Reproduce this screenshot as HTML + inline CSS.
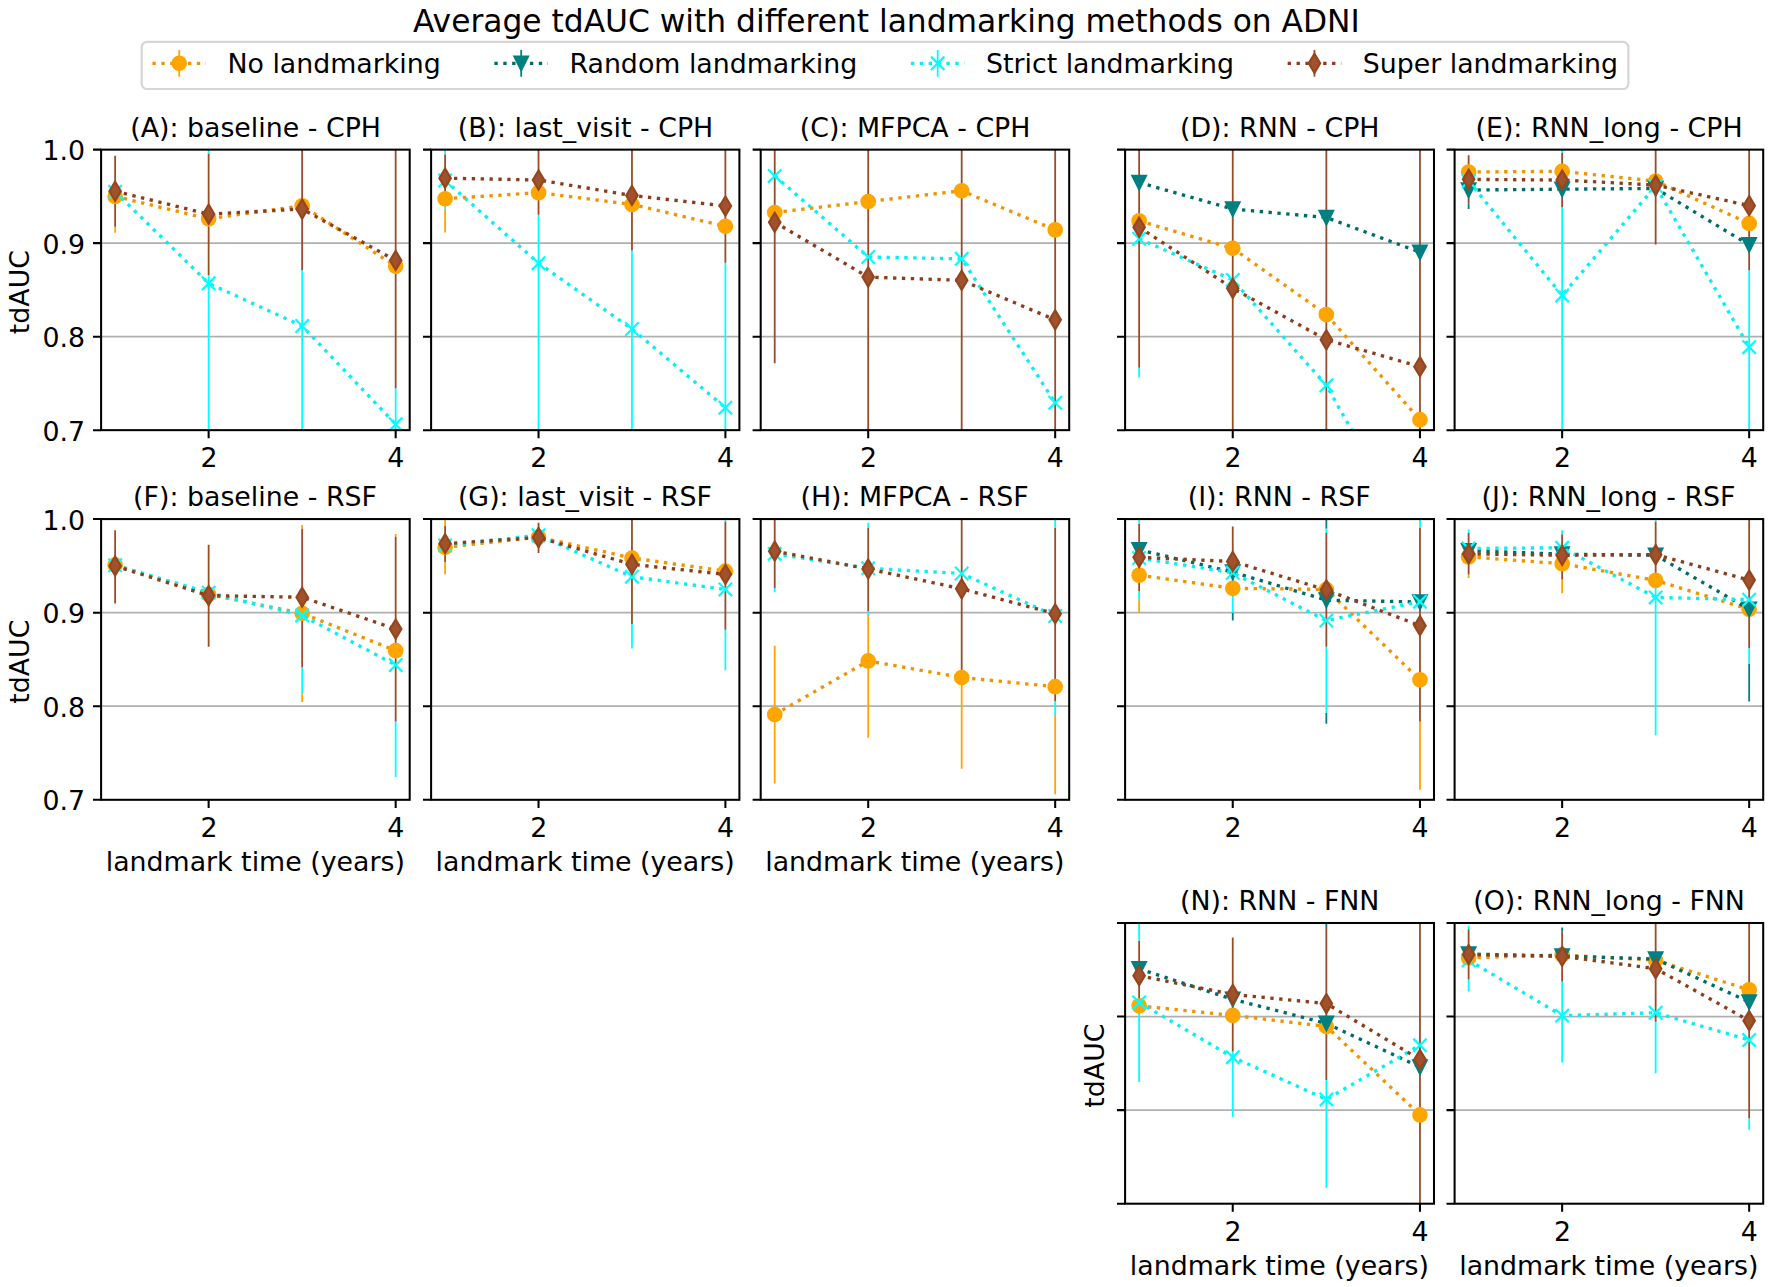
<!DOCTYPE html>
<html lang="en"><head><meta charset="utf-8"><title>Average tdAUC with different landmarking methods on ADNI</title>
<style>
html,body{margin:0;padding:0;background:#fff}
svg{display:block}
svg text{font-family:"DejaVu Sans","Liberation Sans",sans-serif;font-size:26.8px;fill:#000}
</style></head><body>
<svg width="1772" height="1287" viewBox="0 0 1772 1287">
<rect width="1772" height="1287" fill="#fff"/>
<defs><clipPath id="c0"><rect x="101.1" y="149.64" width="308.6" height="280.51"/></clipPath><clipPath id="c1"><rect x="431.1" y="149.64" width="308.3" height="280.51"/></clipPath><clipPath id="c2"><rect x="760.7" y="149.64" width="308.5" height="280.51"/></clipPath><clipPath id="c3"><rect x="1125.1" y="149.64" width="308.9" height="280.51"/></clipPath><clipPath id="c4"><rect x="1454.6" y="149.64" width="308.6" height="280.51"/></clipPath><clipPath id="c5"><rect x="101.1" y="519.07" width="308.6" height="280.73"/></clipPath><clipPath id="c6"><rect x="431.1" y="519.07" width="308.3" height="280.73"/></clipPath><clipPath id="c7"><rect x="760.7" y="519.07" width="308.5" height="280.73"/></clipPath><clipPath id="c8"><rect x="1125.1" y="519.07" width="308.9" height="280.73"/></clipPath><clipPath id="c9"><rect x="1454.6" y="519.07" width="308.6" height="280.73"/></clipPath><clipPath id="c10"><rect x="1125.1" y="923" width="308.9" height="280.7"/></clipPath><clipPath id="c11"><rect x="1454.6" y="923" width="308.6" height="280.7"/></clipPath></defs>
<text x="886.42" y="31.7" text-anchor="middle" style="font-size:31.3px">Average tdAUC with different landmarking methods on ADNI</text>
<rect x="141.7" y="41.9" width="1486.7" height="47.1" rx="5.4" ry="5.4" fill="#fff" fill-opacity="0.8" stroke="#ccc" stroke-opacity="0.8" stroke-width="2.23"/>
<line x1="179.22" x2="179.22"  y1="49.9" y2="76.7" stroke="#ffa500" stroke-width="1.8"/>
<line x1="152.42" x2="206.02" y1="63.3" y2="63.3" stroke="#f29400" stroke-width="3.35" stroke-dasharray="3.35 5.53"/>
<circle cx="179.22" cy="63.3" r="7.82" fill="#ffa500"/>
<text x="227.46" y="72.95">No landmarking</text>
<line x1="521.2" x2="521.2"  y1="49.9" y2="76.7" stroke="#008080" stroke-width="1.8"/>
<line x1="494.4" x2="548" y1="63.3" y2="63.3" stroke="#006c68" stroke-width="3.35" stroke-dasharray="3.35 5.53"/>
<path d="M521.2 70L514.5 56.6L527.9 56.6Z" fill="#008080" stroke="#008080" stroke-width="2.23" stroke-linejoin="miter"/>
<text x="569.44" y="72.95">Random landmarking</text>
<line x1="937.69" x2="937.69"  y1="49.9" y2="76.7" stroke="#00ffff" stroke-width="1.8"/>
<line x1="910.89" x2="964.49" y1="63.3" y2="63.3" stroke="#00f2f2" stroke-width="3.35" stroke-dasharray="3.35 5.53"/>
<path d="M930.99 56.6L944.39 70M930.99 70L944.39 56.6" fill="none" stroke="#00ffff" stroke-width="2.23"/>
<text x="985.93" y="72.95">Strict landmarking</text>
<line x1="1314.46" x2="1314.46"  y1="49.9" y2="76.7" stroke="#9a4c28" stroke-width="1.8"/>
<line x1="1287.66" x2="1341.26" y1="63.3" y2="63.3" stroke="#8c3e1c" stroke-width="3.35" stroke-dasharray="3.35 5.53"/>
<path d="M1314.46 53.83L1320.14 63.3L1314.46 72.77L1308.77 63.3Z" fill="#a0522d" stroke="#96461f" stroke-width="2.23" stroke-linejoin="miter"/>
<text x="1362.7" y="72.95">Super landmarking</text>
<g clip-path="url(#c0)">
<line x1="101.1" x2="409.7" y1="336.65" y2="336.65" stroke="#b0b0b0" stroke-width="1.7"/>
<line x1="101.1" x2="409.7" y1="243.14" y2="243.14" stroke="#b0b0b0" stroke-width="1.7"/>
<line x1="115.13" x2="115.13" y1="226.78" y2="232.86" stroke="#ffa500" stroke-width="1.8"/>
<line x1="115.13" x2="115.13" y1="155.72" y2="226.78" stroke="#9a4c28" stroke-width="1.8"/>
<line x1="208.64" x2="208.64" y1="274.93" y2="439.5" stroke="#00ffff" stroke-width="1.8"/>
<line x1="208.64" x2="208.64" y1="153.38" y2="274.93" stroke="#9a4c28" stroke-width="1.8"/>
<line x1="208.64" x2="208.64" y1="140.29" y2="153.38" stroke="#00ffff" stroke-width="1.8"/>
<line x1="302.16" x2="302.16" y1="270.26" y2="439.5" stroke="#00ffff" stroke-width="1.8"/>
<line x1="302.16" x2="302.16" y1="140.29" y2="270.26" stroke="#9a4c28" stroke-width="1.8"/>
<line x1="395.67" x2="395.67" y1="388.35" y2="439.5" stroke="#00ffff" stroke-width="1.8"/>
<line x1="395.67" x2="395.67" y1="140.29" y2="388.35" stroke="#9a4c28" stroke-width="1.8"/>
<polyline points="115.13,196.39 208.64,218.83 302.16,205.74 395.67,266.15" fill="none" stroke="#f29400" stroke-width="3.35" stroke-dasharray="3.35 5.53"/>
<circle cx="115.13" cy="196.39" r="7.82" fill="#ffa500"/>
<circle cx="208.64" cy="218.83" r="7.82" fill="#ffa500"/>
<circle cx="302.16" cy="205.74" r="7.82" fill="#ffa500"/>
<circle cx="395.67" cy="266.15" r="7.82" fill="#ffa500"/>
<polyline points="115.13,191.72 208.64,283.35 302.16,325.99 395.67,424.26" fill="none" stroke="#00f2f2" stroke-width="3.35" stroke-dasharray="3.35 5.53"/>
<path d="M108.43 185.02L121.83 198.42M108.43 198.42L121.83 185.02" fill="none" stroke="#00ffff" stroke-width="2.23"/>
<path d="M201.94 276.65L215.34 290.05M201.94 290.05L215.34 276.65" fill="none" stroke="#00ffff" stroke-width="2.23"/>
<path d="M295.46 319.29L308.86 332.69M295.46 332.69L308.86 319.29" fill="none" stroke="#00ffff" stroke-width="2.23"/>
<path d="M388.97 417.56L402.37 430.96M388.97 430.96L402.37 417.56" fill="none" stroke="#00ffff" stroke-width="2.23"/>
<polyline points="115.13,191.25 208.64,214.16 302.16,209.01 395.67,260.44" fill="none" stroke="#8c3e1c" stroke-width="3.35" stroke-dasharray="3.35 5.53"/>
<path d="M115.13 181.78L120.81 191.25L115.13 200.72L109.44 191.25Z" fill="#a0522d" stroke="#96461f" stroke-width="2.23" stroke-linejoin="miter"/>
<path d="M208.64 204.68L214.33 214.16L208.64 223.63L202.96 214.16Z" fill="#a0522d" stroke="#96461f" stroke-width="2.23" stroke-linejoin="miter"/>
<path d="M302.16 199.54L307.84 209.01L302.16 218.49L296.47 209.01Z" fill="#a0522d" stroke="#96461f" stroke-width="2.23" stroke-linejoin="miter"/>
<path d="M395.67 250.97L401.36 260.44L395.67 269.92L389.99 260.44Z" fill="#a0522d" stroke="#96461f" stroke-width="2.23" stroke-linejoin="miter"/>
</g>
<path d="M208.64 430.15v8.1M395.67 430.15v8.1M101.1 430.15h-8.1M101.1 336.65h-8.1M101.1 243.14h-8.1M101.1 149.64h-8.1" stroke="#000" stroke-width="2.05" fill="none"/>
<rect x="101.1" y="149.64" width="308.6" height="280.51" fill="none" stroke="#000" stroke-width="2.05" stroke-linejoin="miter"/>
<text x="208.99" y="467.3" text-anchor="middle">2</text>
<text x="395.77" y="467.3" text-anchor="middle">4</text>
<text x="85.1" y="440.75" text-anchor="end">0.7</text>
<text x="85.1" y="347.25" text-anchor="end">0.8</text>
<text x="85.1" y="253.74" text-anchor="end">0.9</text>
<text x="85.1" y="160.24" text-anchor="end">1.0</text>
<text transform="translate(29.2 292.09) rotate(-90)" text-anchor="middle">tdAUC</text>
<text x="255.57" y="136.79" text-anchor="middle">(A): baseline - CPH</text>
<g clip-path="url(#c1)">
<line x1="431.1" x2="739.4" y1="336.65" y2="336.65" stroke="#b0b0b0" stroke-width="1.7"/>
<line x1="431.1" x2="739.4" y1="243.14" y2="243.14" stroke="#b0b0b0" stroke-width="1.7"/>
<line x1="445.11" x2="445.11" y1="208.73" y2="232.39" stroke="#ffa500" stroke-width="1.8"/>
<line x1="445.11" x2="445.11" y1="202" y2="208.73" stroke="#00ffff" stroke-width="1.8"/>
<line x1="445.11" x2="445.11" y1="154.32" y2="202" stroke="#9a4c28" stroke-width="1.8"/>
<line x1="445.11" x2="445.11" y1="140.29" y2="154.32" stroke="#00ffff" stroke-width="1.8"/>
<line x1="538.54" x2="538.54" y1="214.72" y2="439.5" stroke="#00ffff" stroke-width="1.8"/>
<line x1="538.54" x2="538.54" y1="140.29" y2="214.72" stroke="#9a4c28" stroke-width="1.8"/>
<line x1="631.96" x2="631.96" y1="250.62" y2="439.5" stroke="#00ffff" stroke-width="1.8"/>
<line x1="631.96" x2="631.96" y1="140.29" y2="250.62" stroke="#9a4c28" stroke-width="1.8"/>
<line x1="725.39" x2="725.39" y1="262.78" y2="439.5" stroke="#00ffff" stroke-width="1.8"/>
<line x1="725.39" x2="725.39" y1="140.29" y2="262.78" stroke="#9a4c28" stroke-width="1.8"/>
<polyline points="445.11,198.73 538.54,192.65 631.96,204.43 725.39,226.31" fill="none" stroke="#f29400" stroke-width="3.35" stroke-dasharray="3.35 5.53"/>
<circle cx="445.11" cy="198.73" r="7.82" fill="#ffa500"/>
<circle cx="538.54" cy="192.65" r="7.82" fill="#ffa500"/>
<circle cx="631.96" cy="204.43" r="7.82" fill="#ffa500"/>
<circle cx="725.39" cy="226.31" r="7.82" fill="#ffa500"/>
<polyline points="445.11,180.5 538.54,263.15 631.96,328.98 725.39,407.71" fill="none" stroke="#00f2f2" stroke-width="3.35" stroke-dasharray="3.35 5.53"/>
<path d="M438.41 173.8L451.81 187.2M438.41 187.2L451.81 173.8" fill="none" stroke="#00ffff" stroke-width="2.23"/>
<path d="M531.84 256.45L545.24 269.85M531.84 269.85L545.24 256.45" fill="none" stroke="#00ffff" stroke-width="2.23"/>
<path d="M625.26 322.28L638.66 335.68M625.26 335.68L638.66 322.28" fill="none" stroke="#00ffff" stroke-width="2.23"/>
<path d="M718.69 401.01L732.09 414.41M718.69 414.41L732.09 401.01" fill="none" stroke="#00ffff" stroke-width="2.23"/>
<polyline points="445.11,178.16 538.54,180.03 631.96,195.46 725.39,206.02" fill="none" stroke="#8c3e1c" stroke-width="3.35" stroke-dasharray="3.35 5.53"/>
<path d="M445.11 168.68L450.8 178.16L445.11 187.63L439.43 178.16Z" fill="#a0522d" stroke="#96461f" stroke-width="2.23" stroke-linejoin="miter"/>
<path d="M538.54 170.55L544.22 180.03L538.54 189.5L532.85 180.03Z" fill="#a0522d" stroke="#96461f" stroke-width="2.23" stroke-linejoin="miter"/>
<path d="M631.96 185.98L637.65 195.46L631.96 204.93L626.28 195.46Z" fill="#a0522d" stroke="#96461f" stroke-width="2.23" stroke-linejoin="miter"/>
<path d="M725.39 196.55L731.07 206.02L725.39 215.5L719.7 206.02Z" fill="#a0522d" stroke="#96461f" stroke-width="2.23" stroke-linejoin="miter"/>
</g>
<path d="M538.54 430.15v8.1M725.39 430.15v8.1M431.1 430.15h-8.1M431.1 336.65h-8.1M431.1 243.14h-8.1M431.1 149.64h-8.1" stroke="#000" stroke-width="2.05" fill="none"/>
<rect x="431.1" y="149.64" width="308.3" height="280.51" fill="none" stroke="#000" stroke-width="2.05" stroke-linejoin="miter"/>
<text x="538.89" y="467.3" text-anchor="middle">2</text>
<text x="725.48" y="467.3" text-anchor="middle">4</text>
<text x="585.43" y="136.79" text-anchor="middle">(B): last_visit - CPH</text>
<g clip-path="url(#c2)">
<line x1="760.7" x2="1069.2" y1="336.65" y2="336.65" stroke="#b0b0b0" stroke-width="1.7"/>
<line x1="760.7" x2="1069.2" y1="243.14" y2="243.14" stroke="#b0b0b0" stroke-width="1.7"/>
<line x1="774.72" x2="774.72" y1="140.29" y2="363.2" stroke="#9a4c28" stroke-width="1.8"/>
<line x1="868.21" x2="868.21" y1="140.29" y2="439.5" stroke="#9a4c28" stroke-width="1.8"/>
<line x1="961.69" x2="961.69" y1="140.29" y2="439.5" stroke="#9a4c28" stroke-width="1.8"/>
<line x1="1055.18" x2="1055.18" y1="140.29" y2="439.5" stroke="#9a4c28" stroke-width="1.8"/>
<polyline points="774.72,212.47 868.21,201.53 961.69,190.78 1055.18,229.87" fill="none" stroke="#f29400" stroke-width="3.35" stroke-dasharray="3.35 5.53"/>
<circle cx="774.72" cy="212.47" r="7.82" fill="#ffa500"/>
<circle cx="868.21" cy="201.53" r="7.82" fill="#ffa500"/>
<circle cx="961.69" cy="190.78" r="7.82" fill="#ffa500"/>
<circle cx="1055.18" cy="229.87" r="7.82" fill="#ffa500"/>
<polyline points="774.72,175.91 868.21,256.98 961.69,258.85 1055.18,402.75" fill="none" stroke="#00f2f2" stroke-width="3.35" stroke-dasharray="3.35 5.53"/>
<path d="M768.02 169.22L781.42 182.61M768.02 182.61L781.42 169.22" fill="none" stroke="#00ffff" stroke-width="2.23"/>
<path d="M861.51 250.28L874.91 263.68M861.51 263.68L874.91 250.28" fill="none" stroke="#00ffff" stroke-width="2.23"/>
<path d="M954.99 252.15L968.39 265.55M954.99 265.55L968.39 252.15" fill="none" stroke="#00ffff" stroke-width="2.23"/>
<path d="M1048.48 396.05L1061.88 409.45M1048.48 409.45L1061.88 396.05" fill="none" stroke="#00ffff" stroke-width="2.23"/>
<polyline points="774.72,222.29 868.21,277.09 961.69,280.36 1055.18,319.82" fill="none" stroke="#8c3e1c" stroke-width="3.35" stroke-dasharray="3.35 5.53"/>
<path d="M774.72 212.82L780.41 222.29L774.72 231.77L769.04 222.29Z" fill="#a0522d" stroke="#96461f" stroke-width="2.23" stroke-linejoin="miter"/>
<path d="M868.21 267.61L873.89 277.09L868.21 286.56L862.52 277.09Z" fill="#a0522d" stroke="#96461f" stroke-width="2.23" stroke-linejoin="miter"/>
<path d="M961.69 270.88L967.38 280.36L961.69 289.83L956.01 280.36Z" fill="#a0522d" stroke="#96461f" stroke-width="2.23" stroke-linejoin="miter"/>
<path d="M1055.18 310.34L1060.86 319.82L1055.18 329.29L1049.49 319.82Z" fill="#a0522d" stroke="#96461f" stroke-width="2.23" stroke-linejoin="miter"/>
</g>
<path d="M868.21 430.15v8.1M1055.18 430.15v8.1M760.7 430.15h-8.1M760.7 336.65h-8.1M760.7 243.14h-8.1M760.7 149.64h-8.1" stroke="#000" stroke-width="2.05" fill="none"/>
<rect x="760.7" y="149.64" width="308.5" height="280.51" fill="none" stroke="#000" stroke-width="2.05" stroke-linejoin="miter"/>
<text x="868.56" y="467.3" text-anchor="middle">2</text>
<text x="1055.27" y="467.3" text-anchor="middle">4</text>
<text x="915.12" y="136.79" text-anchor="middle">(C): MFPCA - CPH</text>
<g clip-path="url(#c3)">
<line x1="1125.1" x2="1434" y1="336.65" y2="336.65" stroke="#b0b0b0" stroke-width="1.7"/>
<line x1="1125.1" x2="1434" y1="243.14" y2="243.14" stroke="#b0b0b0" stroke-width="1.7"/>
<line x1="1139.14" x2="1139.14" y1="367.78" y2="377.6" stroke="#00ffff" stroke-width="1.8"/>
<line x1="1139.14" x2="1139.14" y1="140.29" y2="367.78" stroke="#9a4c28" stroke-width="1.8"/>
<line x1="1232.75" x2="1232.75" y1="140.29" y2="439.5" stroke="#9a4c28" stroke-width="1.8"/>
<line x1="1326.35" x2="1326.35" y1="140.29" y2="439.5" stroke="#9a4c28" stroke-width="1.8"/>
<line x1="1419.96" x2="1419.96" y1="140.29" y2="439.5" stroke="#9a4c28" stroke-width="1.8"/>
<polyline points="1139.14,220.89 1232.75,248.29 1326.35,314.58 1419.96,419.68" fill="none" stroke="#f29400" stroke-width="3.35" stroke-dasharray="3.35 5.53"/>
<circle cx="1139.14" cy="220.89" r="7.82" fill="#ffa500"/>
<circle cx="1232.75" cy="248.29" r="7.82" fill="#ffa500"/>
<circle cx="1326.35" cy="314.58" r="7.82" fill="#ffa500"/>
<circle cx="1419.96" cy="419.68" r="7.82" fill="#ffa500"/>
<polyline points="1139.14,182.55 1232.75,209.01 1326.35,217.52 1419.96,252.21" fill="none" stroke="#006c68" stroke-width="3.35" stroke-dasharray="3.35 5.53"/>
<path d="M1139.14 189.25L1132.44 175.85L1145.84 175.85Z" fill="#008080" stroke="#008080" stroke-width="2.23" stroke-linejoin="miter"/>
<path d="M1232.75 215.71L1226.05 202.32L1239.45 202.32Z" fill="#008080" stroke="#008080" stroke-width="2.23" stroke-linejoin="miter"/>
<path d="M1326.35 224.22L1319.65 210.82L1333.05 210.82Z" fill="#008080" stroke="#008080" stroke-width="2.23" stroke-linejoin="miter"/>
<path d="M1419.96 258.91L1413.26 245.51L1426.66 245.51Z" fill="#008080" stroke="#008080" stroke-width="2.23" stroke-linejoin="miter"/>
<polyline points="1139.14,238.75 1232.75,279.89 1326.35,385.36 1419.96,550.77" fill="none" stroke="#00f2f2" stroke-width="3.35" stroke-dasharray="3.35 5.53"/>
<path d="M1132.44 232.05L1145.84 245.45M1132.44 245.45L1145.84 232.05" fill="none" stroke="#00ffff" stroke-width="2.23"/>
<path d="M1226.05 273.19L1239.45 286.59M1226.05 286.59L1239.45 273.19" fill="none" stroke="#00ffff" stroke-width="2.23"/>
<path d="M1319.65 378.66L1333.05 392.06M1319.65 392.06L1333.05 378.66" fill="none" stroke="#00ffff" stroke-width="2.23"/>
<path d="M1413.26 544.07L1426.66 557.47M1413.26 557.47L1426.66 544.07" fill="none" stroke="#00ffff" stroke-width="2.23"/>
<polyline points="1139.14,227.25 1232.75,288.31 1326.35,339.73 1419.96,366.66" fill="none" stroke="#8c3e1c" stroke-width="3.35" stroke-dasharray="3.35 5.53"/>
<path d="M1139.14 217.77L1144.83 227.25L1139.14 236.72L1133.46 227.25Z" fill="#a0522d" stroke="#96461f" stroke-width="2.23" stroke-linejoin="miter"/>
<path d="M1232.75 278.83L1238.43 288.31L1232.75 297.78L1227.06 288.31Z" fill="#a0522d" stroke="#96461f" stroke-width="2.23" stroke-linejoin="miter"/>
<path d="M1326.35 330.26L1332.04 339.73L1326.35 349.21L1320.67 339.73Z" fill="#a0522d" stroke="#96461f" stroke-width="2.23" stroke-linejoin="miter"/>
<path d="M1419.96 357.19L1425.64 366.66L1419.96 376.13L1414.27 366.66Z" fill="#a0522d" stroke="#96461f" stroke-width="2.23" stroke-linejoin="miter"/>
</g>
<path d="M1232.75 430.15v8.1M1419.96 430.15v8.1M1125.1 430.15h-8.1M1125.1 336.65h-8.1M1125.1 243.14h-8.1M1125.1 149.64h-8.1" stroke="#000" stroke-width="2.05" fill="none"/>
<rect x="1125.1" y="149.64" width="308.9" height="280.51" fill="none" stroke="#000" stroke-width="2.05" stroke-linejoin="miter"/>
<text x="1233.1" y="467.3" text-anchor="middle">2</text>
<text x="1420.06" y="467.3" text-anchor="middle">4</text>
<text x="1279.72" y="136.79" text-anchor="middle">(D): RNN - CPH</text>
<g clip-path="url(#c4)">
<line x1="1454.6" x2="1763.2" y1="336.65" y2="336.65" stroke="#b0b0b0" stroke-width="1.7"/>
<line x1="1454.6" x2="1763.2" y1="243.14" y2="243.14" stroke="#b0b0b0" stroke-width="1.7"/>
<line x1="1468.63" x2="1468.63" y1="203.4" y2="209.01" stroke="#008080" stroke-width="1.8"/>
<line x1="1468.63" x2="1468.63" y1="155.34" y2="203.4" stroke="#9a4c28" stroke-width="1.8"/>
<line x1="1562.14" x2="1562.14" y1="207.24" y2="439.5" stroke="#00ffff" stroke-width="1.8"/>
<line x1="1562.14" x2="1562.14" y1="153.1" y2="207.24" stroke="#9a4c28" stroke-width="1.8"/>
<line x1="1562.14" x2="1562.14" y1="140.29" y2="153.1" stroke="#00ffff" stroke-width="1.8"/>
<line x1="1655.66" x2="1655.66" y1="140.29" y2="244.45" stroke="#9a4c28" stroke-width="1.8"/>
<line x1="1749.17" x2="1749.17" y1="270.26" y2="439.5" stroke="#00ffff" stroke-width="1.8"/>
<line x1="1749.17" x2="1749.17" y1="140.29" y2="270.26" stroke="#9a4c28" stroke-width="1.8"/>
<polyline points="1468.63,171.99 1562.14,171.33 1655.66,181.15 1749.17,223.41" fill="none" stroke="#f29400" stroke-width="3.35" stroke-dasharray="3.35 5.53"/>
<circle cx="1468.63" cy="171.99" r="7.82" fill="#ffa500"/>
<circle cx="1562.14" cy="171.33" r="7.82" fill="#ffa500"/>
<circle cx="1655.66" cy="181.15" r="7.82" fill="#ffa500"/>
<circle cx="1749.17" cy="223.41" r="7.82" fill="#ffa500"/>
<polyline points="1468.63,190.03 1562.14,189.19 1655.66,188.44 1749.17,244.92" fill="none" stroke="#006c68" stroke-width="3.35" stroke-dasharray="3.35 5.53"/>
<path d="M1468.63 196.73L1461.93 183.33L1475.33 183.33Z" fill="#008080" stroke="#008080" stroke-width="2.23" stroke-linejoin="miter"/>
<path d="M1562.14 195.89L1555.44 182.49L1568.84 182.49Z" fill="#008080" stroke="#008080" stroke-width="2.23" stroke-linejoin="miter"/>
<path d="M1655.66 195.14L1648.96 181.74L1662.36 181.74Z" fill="#008080" stroke="#008080" stroke-width="2.23" stroke-linejoin="miter"/>
<path d="M1749.17 251.62L1742.47 238.22L1755.87 238.22Z" fill="#008080" stroke="#008080" stroke-width="2.23" stroke-linejoin="miter"/>
<polyline points="1468.63,181.15 1562.14,295.41 1655.66,186.11 1749.17,347.21" fill="none" stroke="#00f2f2" stroke-width="3.35" stroke-dasharray="3.35 5.53"/>
<path d="M1461.93 174.45L1475.33 187.85M1461.93 187.85L1475.33 174.45" fill="none" stroke="#00ffff" stroke-width="2.23"/>
<path d="M1555.44 288.71L1568.84 302.11M1555.44 302.11L1568.84 288.71" fill="none" stroke="#00ffff" stroke-width="2.23"/>
<path d="M1648.96 179.41L1662.36 192.81M1648.96 192.81L1662.36 179.41" fill="none" stroke="#00ffff" stroke-width="2.23"/>
<path d="M1742.47 340.51L1755.87 353.91M1742.47 353.91L1755.87 340.51" fill="none" stroke="#00ffff" stroke-width="2.23"/>
<polyline points="1468.63,179.37 1562.14,180.03 1655.66,185.08 1749.17,205.65" fill="none" stroke="#8c3e1c" stroke-width="3.35" stroke-dasharray="3.35 5.53"/>
<path d="M1468.63 169.9L1474.31 179.37L1468.63 188.85L1462.94 179.37Z" fill="#a0522d" stroke="#96461f" stroke-width="2.23" stroke-linejoin="miter"/>
<path d="M1562.14 170.55L1567.83 180.03L1562.14 189.5L1556.46 180.03Z" fill="#a0522d" stroke="#96461f" stroke-width="2.23" stroke-linejoin="miter"/>
<path d="M1655.66 175.6L1661.34 185.08L1655.66 194.55L1649.97 185.08Z" fill="#a0522d" stroke="#96461f" stroke-width="2.23" stroke-linejoin="miter"/>
<path d="M1749.17 196.17L1754.86 205.65L1749.17 215.12L1743.49 205.65Z" fill="#a0522d" stroke="#96461f" stroke-width="2.23" stroke-linejoin="miter"/>
</g>
<path d="M1562.14 430.15v8.1M1749.17 430.15v8.1M1454.6 430.15h-8.1M1454.6 336.65h-8.1M1454.6 243.14h-8.1M1454.6 149.64h-8.1" stroke="#000" stroke-width="2.05" fill="none"/>
<rect x="1454.6" y="149.64" width="308.6" height="280.51" fill="none" stroke="#000" stroke-width="2.05" stroke-linejoin="miter"/>
<text x="1562.49" y="467.3" text-anchor="middle">2</text>
<text x="1749.27" y="467.3" text-anchor="middle">4</text>
<text x="1609.07" y="136.79" text-anchor="middle">(E): RNN_long - CPH</text>
<g clip-path="url(#c5)">
<line x1="101.1" x2="409.7" y1="706.22" y2="706.22" stroke="#b0b0b0" stroke-width="1.7"/>
<line x1="101.1" x2="409.7" y1="612.65" y2="612.65" stroke="#b0b0b0" stroke-width="1.7"/>
<line x1="115.13" x2="115.13" y1="530.3" y2="603.57" stroke="#9a4c28" stroke-width="1.8"/>
<line x1="208.64" x2="208.64" y1="544.8" y2="646.8" stroke="#9a4c28" stroke-width="1.8"/>
<line x1="302.16" x2="302.16" y1="693.5" y2="701.92" stroke="#ffa500" stroke-width="1.8"/>
<line x1="302.16" x2="302.16" y1="667.3" y2="693.5" stroke="#00ffff" stroke-width="1.8"/>
<line x1="302.16" x2="302.16" y1="528.43" y2="667.3" stroke="#9a4c28" stroke-width="1.8"/>
<line x1="302.16" x2="302.16" y1="524.97" y2="528.43" stroke="#ffa500" stroke-width="1.8"/>
<line x1="395.67" x2="395.67" y1="721.48" y2="777.06" stroke="#00ffff" stroke-width="1.8"/>
<line x1="395.67" x2="395.67" y1="536.38" y2="721.48" stroke="#9a4c28" stroke-width="1.8"/>
<line x1="395.67" x2="395.67" y1="534.04" y2="536.38" stroke="#ffa500" stroke-width="1.8"/>
<polyline points="115.13,564.92 208.64,594.4 302.16,613.3 395.67,650.64" fill="none" stroke="#f29400" stroke-width="3.35" stroke-dasharray="3.35 5.53"/>
<circle cx="115.13" cy="564.92" r="7.82" fill="#ffa500"/>
<circle cx="208.64" cy="594.4" r="7.82" fill="#ffa500"/>
<circle cx="302.16" cy="613.3" r="7.82" fill="#ffa500"/>
<circle cx="395.67" cy="650.64" r="7.82" fill="#ffa500"/>
<polyline points="115.13,565.3 208.64,592.62 302.16,615.45 395.67,665.05" fill="none" stroke="#00f2f2" stroke-width="3.35" stroke-dasharray="3.35 5.53"/>
<path d="M108.43 558.6L121.83 572M108.43 572L121.83 558.6" fill="none" stroke="#00ffff" stroke-width="2.23"/>
<path d="M201.94 585.92L215.34 599.32M201.94 599.32L215.34 585.92" fill="none" stroke="#00ffff" stroke-width="2.23"/>
<path d="M295.46 608.75L308.86 622.15M295.46 622.15L308.86 608.75" fill="none" stroke="#00ffff" stroke-width="2.23"/>
<path d="M388.97 658.35L402.37 671.75M388.97 671.75L402.37 658.35" fill="none" stroke="#00ffff" stroke-width="2.23"/>
<polyline points="115.13,565.95 208.64,595.62 302.16,597.21 395.67,629.02" fill="none" stroke="#8c3e1c" stroke-width="3.35" stroke-dasharray="3.35 5.53"/>
<path d="M115.13 556.48L120.81 565.95L115.13 575.43L109.44 565.95Z" fill="#a0522d" stroke="#96461f" stroke-width="2.23" stroke-linejoin="miter"/>
<path d="M208.64 586.14L214.33 595.62L208.64 605.09L202.96 595.62Z" fill="#a0522d" stroke="#96461f" stroke-width="2.23" stroke-linejoin="miter"/>
<path d="M302.16 587.73L307.84 597.21L302.16 606.68L296.47 597.21Z" fill="#a0522d" stroke="#96461f" stroke-width="2.23" stroke-linejoin="miter"/>
<path d="M395.67 619.55L401.36 629.02L395.67 638.5L389.99 629.02Z" fill="#a0522d" stroke="#96461f" stroke-width="2.23" stroke-linejoin="miter"/>
</g>
<path d="M208.64 799.8v8.1M395.67 799.8v8.1M101.1 799.8h-8.1M101.1 706.22h-8.1M101.1 612.65h-8.1M101.1 519.07h-8.1" stroke="#000" stroke-width="2.05" fill="none"/>
<rect x="101.1" y="519.07" width="308.6" height="280.73" fill="none" stroke="#000" stroke-width="2.05" stroke-linejoin="miter"/>
<text x="208.99" y="836.95" text-anchor="middle">2</text>
<text x="395.77" y="836.95" text-anchor="middle">4</text>
<text x="85.1" y="810.4" text-anchor="end">0.7</text>
<text x="85.1" y="716.82" text-anchor="end">0.8</text>
<text x="85.1" y="623.25" text-anchor="end">0.9</text>
<text x="85.1" y="529.67" text-anchor="end">1.0</text>
<text transform="translate(29.2 661.63) rotate(-90)" text-anchor="middle">tdAUC</text>
<text x="255.27" y="870.9" text-anchor="middle">landmark time (years)</text>
<text x="255.03" y="506.22" text-anchor="middle">(F): baseline - RSF</text>
<g clip-path="url(#c6)">
<line x1="431.1" x2="739.4" y1="706.22" y2="706.22" stroke="#b0b0b0" stroke-width="1.7"/>
<line x1="431.1" x2="739.4" y1="612.65" y2="612.65" stroke="#b0b0b0" stroke-width="1.7"/>
<line x1="445.11" x2="445.11" y1="562.12" y2="574.37" stroke="#ffa500" stroke-width="1.8"/>
<line x1="445.11" x2="445.11" y1="525.62" y2="562.12" stroke="#9a4c28" stroke-width="1.8"/>
<line x1="445.11" x2="445.11" y1="509.71" y2="525.62" stroke="#ffa500" stroke-width="1.8"/>
<line x1="538.54" x2="538.54" y1="522.81" y2="553.04" stroke="#9a4c28" stroke-width="1.8"/>
<line x1="631.96" x2="631.96" y1="624.06" y2="648.58" stroke="#00ffff" stroke-width="1.8"/>
<line x1="631.96" x2="631.96" y1="509.71" y2="624.06" stroke="#9a4c28" stroke-width="1.8"/>
<line x1="725.39" x2="725.39" y1="629.68" y2="670.29" stroke="#00ffff" stroke-width="1.8"/>
<line x1="725.39" x2="725.39" y1="521.41" y2="629.68" stroke="#9a4c28" stroke-width="1.8"/>
<line x1="725.39" x2="725.39" y1="509.71" y2="521.41" stroke="#00ffff" stroke-width="1.8"/>
<polyline points="445.11,547.33 538.54,537.04 631.96,558 725.39,571.19" fill="none" stroke="#f29400" stroke-width="3.35" stroke-dasharray="3.35 5.53"/>
<circle cx="445.11" cy="547.33" r="7.82" fill="#ffa500"/>
<circle cx="538.54" cy="537.04" r="7.82" fill="#ffa500"/>
<circle cx="631.96" cy="558" r="7.82" fill="#ffa500"/>
<circle cx="725.39" cy="571.19" r="7.82" fill="#ffa500"/>
<polyline points="445.11,545.46 538.54,535.26 631.96,576.71 725.39,589.44" fill="none" stroke="#00f2f2" stroke-width="3.35" stroke-dasharray="3.35 5.53"/>
<path d="M438.41 538.76L451.81 552.16M438.41 552.16L451.81 538.76" fill="none" stroke="#00ffff" stroke-width="2.23"/>
<path d="M531.84 528.56L545.24 541.96M531.84 541.96L545.24 528.56" fill="none" stroke="#00ffff" stroke-width="2.23"/>
<path d="M625.26 570.01L638.66 583.41M625.26 583.41L638.66 570.01" fill="none" stroke="#00ffff" stroke-width="2.23"/>
<path d="M718.69 582.74L732.09 596.14M718.69 596.14L732.09 582.74" fill="none" stroke="#00ffff" stroke-width="2.23"/>
<polyline points="445.11,543.68 538.54,537.5 631.96,564.36 725.39,574.37" fill="none" stroke="#8c3e1c" stroke-width="3.35" stroke-dasharray="3.35 5.53"/>
<path d="M445.11 534.21L450.8 543.68L445.11 553.15L439.43 543.68Z" fill="#a0522d" stroke="#96461f" stroke-width="2.23" stroke-linejoin="miter"/>
<path d="M538.54 528.03L544.22 537.5L538.54 546.98L532.85 537.5Z" fill="#a0522d" stroke="#96461f" stroke-width="2.23" stroke-linejoin="miter"/>
<path d="M631.96 554.89L637.65 564.36L631.96 573.83L626.28 564.36Z" fill="#a0522d" stroke="#96461f" stroke-width="2.23" stroke-linejoin="miter"/>
<path d="M725.39 564.9L731.07 574.37L725.39 583.85L719.7 574.37Z" fill="#a0522d" stroke="#96461f" stroke-width="2.23" stroke-linejoin="miter"/>
</g>
<path d="M538.54 799.8v8.1M725.39 799.8v8.1M431.1 799.8h-8.1M431.1 706.22h-8.1M431.1 612.65h-8.1M431.1 519.07h-8.1" stroke="#000" stroke-width="2.05" fill="none"/>
<rect x="431.1" y="519.07" width="308.3" height="280.73" fill="none" stroke="#000" stroke-width="2.05" stroke-linejoin="miter"/>
<text x="538.89" y="836.95" text-anchor="middle">2</text>
<text x="725.48" y="836.95" text-anchor="middle">4</text>
<text x="585.12" y="870.9" text-anchor="middle">landmark time (years)</text>
<text x="584.88" y="506.22" text-anchor="middle">(G): last_visit - RSF</text>
<g clip-path="url(#c7)">
<line x1="760.7" x2="1069.2" y1="706.22" y2="706.22" stroke="#b0b0b0" stroke-width="1.7"/>
<line x1="760.7" x2="1069.2" y1="612.65" y2="612.65" stroke="#b0b0b0" stroke-width="1.7"/>
<line x1="774.72" x2="774.72" y1="645.68" y2="783.42" stroke="#ffa500" stroke-width="1.8"/>
<line x1="774.72" x2="774.72" y1="588.04" y2="592.15" stroke="#00ffff" stroke-width="1.8"/>
<line x1="774.72" x2="774.72" y1="514.39" y2="588.04" stroke="#9a4c28" stroke-width="1.8"/>
<line x1="868.21" x2="868.21" y1="614.99" y2="737.85" stroke="#ffa500" stroke-width="1.8"/>
<line x1="868.21" x2="868.21" y1="611.24" y2="614.99" stroke="#00ffff" stroke-width="1.8"/>
<line x1="868.21" x2="868.21" y1="527.96" y2="611.24" stroke="#9a4c28" stroke-width="1.8"/>
<line x1="868.21" x2="868.21" y1="522.72" y2="527.96" stroke="#00ffff" stroke-width="1.8"/>
<line x1="961.69" x2="961.69" y1="673.47" y2="768.64" stroke="#ffa500" stroke-width="1.8"/>
<line x1="961.69" x2="961.69" y1="509.71" y2="673.47" stroke="#9a4c28" stroke-width="1.8"/>
<line x1="1055.18" x2="1055.18" y1="715.11" y2="794.37" stroke="#ffa500" stroke-width="1.8"/>
<line x1="1055.18" x2="1055.18" y1="700.98" y2="715.11" stroke="#00ffff" stroke-width="1.8"/>
<line x1="1055.18" x2="1055.18" y1="527.96" y2="700.98" stroke="#9a4c28" stroke-width="1.8"/>
<line x1="1055.18" x2="1055.18" y1="515.33" y2="527.96" stroke="#00ffff" stroke-width="1.8"/>
<polyline points="774.72,714.46 868.21,660.93 961.69,677.5 1055.18,686.67" fill="none" stroke="#f29400" stroke-width="3.35" stroke-dasharray="3.35 5.53"/>
<circle cx="774.72" cy="714.46" r="7.82" fill="#ffa500"/>
<circle cx="868.21" cy="660.93" r="7.82" fill="#ffa500"/>
<circle cx="961.69" cy="677.5" r="7.82" fill="#ffa500"/>
<circle cx="1055.18" cy="686.67" r="7.82" fill="#ffa500"/>
<polyline points="774.72,553.88 868.21,568.29 961.69,573.53 1055.18,616.02" fill="none" stroke="#00f2f2" stroke-width="3.35" stroke-dasharray="3.35 5.53"/>
<path d="M768.02 547.18L781.42 560.58M768.02 560.58L781.42 547.18" fill="none" stroke="#00ffff" stroke-width="2.23"/>
<path d="M861.51 561.59L874.91 574.99M861.51 574.99L874.91 561.59" fill="none" stroke="#00ffff" stroke-width="2.23"/>
<path d="M954.99 566.83L968.39 580.23M954.99 580.23L968.39 566.83" fill="none" stroke="#00ffff" stroke-width="2.23"/>
<path d="M1048.48 609.32L1061.88 622.71M1048.48 622.71L1061.88 609.32" fill="none" stroke="#00ffff" stroke-width="2.23"/>
<polyline points="774.72,551.17 868.21,568.95 961.69,588.78 1055.18,613.77" fill="none" stroke="#8c3e1c" stroke-width="3.35" stroke-dasharray="3.35 5.53"/>
<path d="M774.72 541.69L780.41 551.17L774.72 560.64L769.04 551.17Z" fill="#a0522d" stroke="#96461f" stroke-width="2.23" stroke-linejoin="miter"/>
<path d="M868.21 559.47L873.89 568.95L868.21 578.42L862.52 568.95Z" fill="#a0522d" stroke="#96461f" stroke-width="2.23" stroke-linejoin="miter"/>
<path d="M961.69 579.31L967.38 588.78L961.69 598.26L956.01 588.78Z" fill="#a0522d" stroke="#96461f" stroke-width="2.23" stroke-linejoin="miter"/>
<path d="M1055.18 604.3L1060.86 613.77L1055.18 623.24L1049.49 613.77Z" fill="#a0522d" stroke="#96461f" stroke-width="2.23" stroke-linejoin="miter"/>
</g>
<path d="M868.21 799.8v8.1M1055.18 799.8v8.1M760.7 799.8h-8.1M760.7 706.22h-8.1M760.7 612.65h-8.1M760.7 519.07h-8.1" stroke="#000" stroke-width="2.05" fill="none"/>
<rect x="760.7" y="519.07" width="308.5" height="280.73" fill="none" stroke="#000" stroke-width="2.05" stroke-linejoin="miter"/>
<text x="868.56" y="836.95" text-anchor="middle">2</text>
<text x="1055.27" y="836.95" text-anchor="middle">4</text>
<text x="914.82" y="870.9" text-anchor="middle">landmark time (years)</text>
<text x="914.57" y="506.22" text-anchor="middle">(H): MFPCA - RSF</text>
<g clip-path="url(#c8)">
<line x1="1125.1" x2="1434" y1="706.22" y2="706.22" stroke="#b0b0b0" stroke-width="1.7"/>
<line x1="1125.1" x2="1434" y1="612.65" y2="612.65" stroke="#b0b0b0" stroke-width="1.7"/>
<line x1="1139.14" x2="1139.14" y1="600.11" y2="612.55" stroke="#ffa500" stroke-width="1.8"/>
<line x1="1139.14" x2="1139.14" y1="591.03" y2="600.11" stroke="#00ffff" stroke-width="1.8"/>
<line x1="1139.14" x2="1139.14" y1="523.75" y2="591.03" stroke="#9a4c28" stroke-width="1.8"/>
<line x1="1139.14" x2="1139.14" y1="516.26" y2="523.75" stroke="#00ffff" stroke-width="1.8"/>
<line x1="1232.75" x2="1232.75" y1="612.65" y2="620.6" stroke="#008080" stroke-width="1.8"/>
<line x1="1232.75" x2="1232.75" y1="596.36" y2="612.65" stroke="#00ffff" stroke-width="1.8"/>
<line x1="1232.75" x2="1232.75" y1="526.56" y2="596.36" stroke="#9a4c28" stroke-width="1.8"/>
<line x1="1326.35" x2="1326.35" y1="712.77" y2="723.72" stroke="#008080" stroke-width="1.8"/>
<line x1="1326.35" x2="1326.35" y1="646.8" y2="712.77" stroke="#00ffff" stroke-width="1.8"/>
<line x1="1326.35" x2="1326.35" y1="533.11" y2="646.8" stroke="#9a4c28" stroke-width="1.8"/>
<line x1="1326.35" x2="1326.35" y1="528.43" y2="533.11" stroke="#00ffff" stroke-width="1.8"/>
<line x1="1326.35" x2="1326.35" y1="509.71" y2="528.43" stroke="#008080" stroke-width="1.8"/>
<line x1="1419.96" x2="1419.96" y1="721.48" y2="789.79" stroke="#ffa500" stroke-width="1.8"/>
<line x1="1419.96" x2="1419.96" y1="527.96" y2="721.48" stroke="#9a4c28" stroke-width="1.8"/>
<line x1="1419.96" x2="1419.96" y1="509.71" y2="527.96" stroke="#00ffff" stroke-width="1.8"/>
<polyline points="1139.14,575.12 1232.75,588.32 1326.35,589.44 1419.96,679.83" fill="none" stroke="#f29400" stroke-width="3.35" stroke-dasharray="3.35 5.53"/>
<circle cx="1139.14" cy="575.12" r="7.82" fill="#ffa500"/>
<circle cx="1232.75" cy="588.32" r="7.82" fill="#ffa500"/>
<circle cx="1326.35" cy="589.44" r="7.82" fill="#ffa500"/>
<circle cx="1419.96" cy="679.83" r="7.82" fill="#ffa500"/>
<polyline points="1139.14,549.76 1232.75,572.13 1326.35,600.11 1419.96,601.98" fill="none" stroke="#006c68" stroke-width="3.35" stroke-dasharray="3.35 5.53"/>
<path d="M1139.14 556.46L1132.44 543.06L1145.84 543.06Z" fill="#008080" stroke="#008080" stroke-width="2.23" stroke-linejoin="miter"/>
<path d="M1232.75 578.83L1226.05 565.43L1239.45 565.43Z" fill="#008080" stroke="#008080" stroke-width="2.23" stroke-linejoin="miter"/>
<path d="M1326.35 606.81L1319.65 593.41L1333.05 593.41Z" fill="#008080" stroke="#008080" stroke-width="2.23" stroke-linejoin="miter"/>
<path d="M1419.96 608.68L1413.26 595.28L1426.66 595.28Z" fill="#008080" stroke="#008080" stroke-width="2.23" stroke-linejoin="miter"/>
<polyline points="1139.14,558 1232.75,572.78 1326.35,620.6 1419.96,601.7" fill="none" stroke="#00f2f2" stroke-width="3.35" stroke-dasharray="3.35 5.53"/>
<path d="M1132.44 551.3L1145.84 564.7M1132.44 564.7L1145.84 551.3" fill="none" stroke="#00ffff" stroke-width="2.23"/>
<path d="M1226.05 566.08L1239.45 579.48M1226.05 579.48L1239.45 566.08" fill="none" stroke="#00ffff" stroke-width="2.23"/>
<path d="M1319.65 613.9L1333.05 627.3M1319.65 627.3L1333.05 613.9" fill="none" stroke="#00ffff" stroke-width="2.23"/>
<path d="M1413.26 595L1426.66 608.4M1413.26 608.4L1426.66 595" fill="none" stroke="#00ffff" stroke-width="2.23"/>
<polyline points="1139.14,557.34 1232.75,561.46 1326.35,589.91 1419.96,625.65" fill="none" stroke="#8c3e1c" stroke-width="3.35" stroke-dasharray="3.35 5.53"/>
<path d="M1139.14 547.87L1144.83 557.34L1139.14 566.82L1133.46 557.34Z" fill="#a0522d" stroke="#96461f" stroke-width="2.23" stroke-linejoin="miter"/>
<path d="M1232.75 551.99L1238.43 561.46L1232.75 570.93L1227.06 561.46Z" fill="#a0522d" stroke="#96461f" stroke-width="2.23" stroke-linejoin="miter"/>
<path d="M1326.35 580.43L1332.04 589.91L1326.35 599.38L1320.67 589.91Z" fill="#a0522d" stroke="#96461f" stroke-width="2.23" stroke-linejoin="miter"/>
<path d="M1419.96 616.18L1425.64 625.65L1419.96 635.13L1414.27 625.65Z" fill="#a0522d" stroke="#96461f" stroke-width="2.23" stroke-linejoin="miter"/>
</g>
<path d="M1232.75 799.8v8.1M1419.96 799.8v8.1M1125.1 799.8h-8.1M1125.1 706.22h-8.1M1125.1 612.65h-8.1M1125.1 519.07h-8.1" stroke="#000" stroke-width="2.05" fill="none"/>
<rect x="1125.1" y="519.07" width="308.9" height="280.73" fill="none" stroke="#000" stroke-width="2.05" stroke-linejoin="miter"/>
<text x="1233.1" y="836.95" text-anchor="middle">2</text>
<text x="1420.06" y="836.95" text-anchor="middle">4</text>
<text x="1279.18" y="506.22" text-anchor="middle">(I): RNN - RSF</text>
<g clip-path="url(#c9)">
<line x1="1454.6" x2="1763.2" y1="706.22" y2="706.22" stroke="#b0b0b0" stroke-width="1.7"/>
<line x1="1454.6" x2="1763.2" y1="612.65" y2="612.65" stroke="#b0b0b0" stroke-width="1.7"/>
<line x1="1468.63" x2="1468.63" y1="574.47" y2="578.02" stroke="#ffa500" stroke-width="1.8"/>
<line x1="1468.63" x2="1468.63" y1="532.92" y2="574.47" stroke="#9a4c28" stroke-width="1.8"/>
<line x1="1468.63" x2="1468.63" y1="529.55" y2="532.92" stroke="#00ffff" stroke-width="1.8"/>
<line x1="1562.14" x2="1562.14" y1="579.61" y2="593.28" stroke="#ffa500" stroke-width="1.8"/>
<line x1="1562.14" x2="1562.14" y1="534.14" y2="579.61" stroke="#9a4c28" stroke-width="1.8"/>
<line x1="1562.14" x2="1562.14" y1="530.21" y2="534.14" stroke="#00ffff" stroke-width="1.8"/>
<line x1="1655.66" x2="1655.66" y1="584.57" y2="735.14" stroke="#00ffff" stroke-width="1.8"/>
<line x1="1655.66" x2="1655.66" y1="521.41" y2="584.57" stroke="#9a4c28" stroke-width="1.8"/>
<line x1="1655.66" x2="1655.66" y1="509.71" y2="521.41" stroke="#00ffff" stroke-width="1.8"/>
<line x1="1749.17" x2="1749.17" y1="663.83" y2="701.45" stroke="#008080" stroke-width="1.8"/>
<line x1="1749.17" x2="1749.17" y1="647.93" y2="663.83" stroke="#00ffff" stroke-width="1.8"/>
<line x1="1749.17" x2="1749.17" y1="512.52" y2="647.93" stroke="#9a4c28" stroke-width="1.8"/>
<polyline points="1468.63,556.87 1562.14,563.71 1655.66,580.36 1749.17,609.28" fill="none" stroke="#f29400" stroke-width="3.35" stroke-dasharray="3.35 5.53"/>
<circle cx="1468.63" cy="556.87" r="7.82" fill="#ffa500"/>
<circle cx="1562.14" cy="563.71" r="7.82" fill="#ffa500"/>
<circle cx="1655.66" cy="580.36" r="7.82" fill="#ffa500"/>
<circle cx="1749.17" cy="609.28" r="7.82" fill="#ffa500"/>
<polyline points="1468.63,550.7 1562.14,554.16 1655.66,555.28 1749.17,609.28" fill="none" stroke="#006c68" stroke-width="3.35" stroke-dasharray="3.35 5.53"/>
<path d="M1468.63 557.4L1461.93 544L1475.33 544Z" fill="#008080" stroke="#008080" stroke-width="2.23" stroke-linejoin="miter"/>
<path d="M1562.14 560.86L1555.44 547.46L1568.84 547.46Z" fill="#008080" stroke="#008080" stroke-width="2.23" stroke-linejoin="miter"/>
<path d="M1655.66 561.98L1648.96 548.59L1662.36 548.59Z" fill="#008080" stroke="#008080" stroke-width="2.23" stroke-linejoin="miter"/>
<path d="M1749.17 615.98L1742.47 602.58L1755.87 602.58Z" fill="#008080" stroke="#008080" stroke-width="2.23" stroke-linejoin="miter"/>
<polyline points="1468.63,548.45 1562.14,547.8 1655.66,597.39 1749.17,599.64" fill="none" stroke="#00f2f2" stroke-width="3.35" stroke-dasharray="3.35 5.53"/>
<path d="M1461.93 541.75L1475.33 555.15M1461.93 555.15L1475.33 541.75" fill="none" stroke="#00ffff" stroke-width="2.23"/>
<path d="M1555.44 541.1L1568.84 554.5M1555.44 554.5L1568.84 541.1" fill="none" stroke="#00ffff" stroke-width="2.23"/>
<path d="M1648.96 590.69L1662.36 604.09M1648.96 604.09L1662.36 590.69" fill="none" stroke="#00ffff" stroke-width="2.23"/>
<path d="M1742.47 592.94L1755.87 606.34M1742.47 606.34L1755.87 592.94" fill="none" stroke="#00ffff" stroke-width="2.23"/>
<polyline points="1468.63,553.88 1562.14,555.28 1655.66,554.63 1749.17,580.08" fill="none" stroke="#8c3e1c" stroke-width="3.35" stroke-dasharray="3.35 5.53"/>
<path d="M1468.63 544.41L1474.31 553.88L1468.63 563.35L1462.94 553.88Z" fill="#a0522d" stroke="#96461f" stroke-width="2.23" stroke-linejoin="miter"/>
<path d="M1562.14 545.81L1567.83 555.28L1562.14 564.76L1556.46 555.28Z" fill="#a0522d" stroke="#96461f" stroke-width="2.23" stroke-linejoin="miter"/>
<path d="M1655.66 545.16L1661.34 554.63L1655.66 564.1L1649.97 554.63Z" fill="#a0522d" stroke="#96461f" stroke-width="2.23" stroke-linejoin="miter"/>
<path d="M1749.17 570.61L1754.86 580.08L1749.17 589.56L1743.49 580.08Z" fill="#a0522d" stroke="#96461f" stroke-width="2.23" stroke-linejoin="miter"/>
</g>
<path d="M1562.14 799.8v8.1M1749.17 799.8v8.1M1454.6 799.8h-8.1M1454.6 706.22h-8.1M1454.6 612.65h-8.1M1454.6 519.07h-8.1" stroke="#000" stroke-width="2.05" fill="none"/>
<rect x="1454.6" y="519.07" width="308.6" height="280.73" fill="none" stroke="#000" stroke-width="2.05" stroke-linejoin="miter"/>
<text x="1562.49" y="836.95" text-anchor="middle">2</text>
<text x="1749.27" y="836.95" text-anchor="middle">4</text>
<text x="1608.53" y="506.22" text-anchor="middle">(J): RNN_long - RSF</text>
<g clip-path="url(#c10)">
<line x1="1125.1" x2="1434" y1="1110.13" y2="1110.13" stroke="#b0b0b0" stroke-width="1.7"/>
<line x1="1125.1" x2="1434" y1="1016.57" y2="1016.57" stroke="#b0b0b0" stroke-width="1.7"/>
<line x1="1139.14" x2="1139.14" y1="1010.58" y2="1081.88" stroke="#00ffff" stroke-width="1.8"/>
<line x1="1139.14" x2="1139.14" y1="940.78" y2="1010.58" stroke="#9a4c28" stroke-width="1.8"/>
<line x1="1139.14" x2="1139.14" y1="921.13" y2="940.78" stroke="#00ffff" stroke-width="1.8"/>
<line x1="1232.75" x2="1232.75" y1="1051.47" y2="1116.96" stroke="#00ffff" stroke-width="1.8"/>
<line x1="1232.75" x2="1232.75" y1="937.41" y2="1051.47" stroke="#9a4c28" stroke-width="1.8"/>
<line x1="1326.35" x2="1326.35" y1="1080" y2="1187.7" stroke="#00ffff" stroke-width="1.8"/>
<line x1="1326.35" x2="1326.35" y1="927.12" y2="1080" stroke="#9a4c28" stroke-width="1.8"/>
<line x1="1326.35" x2="1326.35" y1="913.64" y2="927.12" stroke="#008080" stroke-width="1.8"/>
<line x1="1419.96" x2="1419.96" y1="913.64" y2="1213.06" stroke="#9a4c28" stroke-width="1.8"/>
<polyline points="1139.14,1005.81 1232.75,1015.44 1326.35,1026.39 1419.96,1114.91" fill="none" stroke="#f29400" stroke-width="3.35" stroke-dasharray="3.35 5.53"/>
<circle cx="1139.14" cy="1005.81" r="7.82" fill="#ffa500"/>
<circle cx="1232.75" cy="1015.44" r="7.82" fill="#ffa500"/>
<circle cx="1326.35" cy="1026.39" r="7.82" fill="#ffa500"/>
<circle cx="1419.96" cy="1114.91" r="7.82" fill="#ffa500"/>
<polyline points="1139.14,968.85 1232.75,999.26 1326.35,1023.4 1419.96,1067" fill="none" stroke="#006c68" stroke-width="3.35" stroke-dasharray="3.35 5.53"/>
<path d="M1139.14 975.55L1132.44 962.15L1145.84 962.15Z" fill="#008080" stroke="#008080" stroke-width="2.23" stroke-linejoin="miter"/>
<path d="M1232.75 1005.96L1226.05 992.56L1239.45 992.56Z" fill="#008080" stroke="#008080" stroke-width="2.23" stroke-linejoin="miter"/>
<path d="M1326.35 1030.1L1319.65 1016.7L1333.05 1016.7Z" fill="#008080" stroke="#008080" stroke-width="2.23" stroke-linejoin="miter"/>
<path d="M1419.96 1073.7L1413.26 1060.3L1426.66 1060.3Z" fill="#008080" stroke="#008080" stroke-width="2.23" stroke-linejoin="miter"/>
<polyline points="1139.14,1002.44 1232.75,1057.17 1326.35,1099.37 1419.96,1045.29" fill="none" stroke="#00f2f2" stroke-width="3.35" stroke-dasharray="3.35 5.53"/>
<path d="M1132.44 995.74L1145.84 1009.14M1132.44 1009.14L1145.84 995.74" fill="none" stroke="#00ffff" stroke-width="2.23"/>
<path d="M1226.05 1050.48L1239.45 1063.87M1226.05 1063.87L1239.45 1050.48" fill="none" stroke="#00ffff" stroke-width="2.23"/>
<path d="M1319.65 1092.67L1333.05 1106.07M1319.65 1106.07L1333.05 1092.67" fill="none" stroke="#00ffff" stroke-width="2.23"/>
<path d="M1413.26 1038.59L1426.66 1051.99M1413.26 1051.99L1426.66 1038.59" fill="none" stroke="#00ffff" stroke-width="2.23"/>
<polyline points="1139.14,975.68 1232.75,994.39 1326.35,1003.56 1419.96,1059.51" fill="none" stroke="#8c3e1c" stroke-width="3.35" stroke-dasharray="3.35 5.53"/>
<path d="M1139.14 966.2L1144.83 975.68L1139.14 985.15L1133.46 975.68Z" fill="#a0522d" stroke="#96461f" stroke-width="2.23" stroke-linejoin="miter"/>
<path d="M1232.75 984.92L1238.43 994.39L1232.75 1003.87L1227.06 994.39Z" fill="#a0522d" stroke="#96461f" stroke-width="2.23" stroke-linejoin="miter"/>
<path d="M1326.35 994.09L1332.04 1003.56L1326.35 1013.03L1320.67 1003.56Z" fill="#a0522d" stroke="#96461f" stroke-width="2.23" stroke-linejoin="miter"/>
<path d="M1419.96 1050.04L1425.64 1059.51L1419.96 1068.99L1414.27 1059.51Z" fill="#a0522d" stroke="#96461f" stroke-width="2.23" stroke-linejoin="miter"/>
</g>
<path d="M1232.75 1203.7v8.1M1419.96 1203.7v8.1M1125.1 1203.7h-8.1M1125.1 1110.13h-8.1M1125.1 1016.57h-8.1M1125.1 923h-8.1" stroke="#000" stroke-width="2.05" fill="none"/>
<rect x="1125.1" y="923" width="308.9" height="280.7" fill="none" stroke="#000" stroke-width="2.05" stroke-linejoin="miter"/>
<text x="1233.1" y="1240.85" text-anchor="middle">2</text>
<text x="1420.06" y="1240.85" text-anchor="middle">4</text>
<text transform="translate(1103.8 1065.55) rotate(-90)" text-anchor="middle">tdAUC</text>
<text x="1279.42" y="1274.8" text-anchor="middle">landmark time (years)</text>
<text x="1279.72" y="910.15" text-anchor="middle">(N): RNN - FNN</text>
<g clip-path="url(#c11)">
<line x1="1454.6" x2="1763.2" y1="1110.13" y2="1110.13" stroke="#b0b0b0" stroke-width="1.7"/>
<line x1="1454.6" x2="1763.2" y1="1016.57" y2="1016.57" stroke="#b0b0b0" stroke-width="1.7"/>
<line x1="1468.63" x2="1468.63" y1="979.61" y2="991.49" stroke="#00ffff" stroke-width="1.8"/>
<line x1="1468.63" x2="1468.63" y1="929.36" y2="979.61" stroke="#9a4c28" stroke-width="1.8"/>
<line x1="1468.63" x2="1468.63" y1="925.99" y2="929.36" stroke="#00ffff" stroke-width="1.8"/>
<line x1="1562.14" x2="1562.14" y1="981.39" y2="1062.41" stroke="#00ffff" stroke-width="1.8"/>
<line x1="1562.14" x2="1562.14" y1="931.7" y2="981.39" stroke="#9a4c28" stroke-width="1.8"/>
<line x1="1562.14" x2="1562.14" y1="927.58" y2="931.7" stroke="#008080" stroke-width="1.8"/>
<line x1="1655.66" x2="1655.66" y1="1021.81" y2="1073.17" stroke="#00ffff" stroke-width="1.8"/>
<line x1="1655.66" x2="1655.66" y1="915.51" y2="1021.81" stroke="#9a4c28" stroke-width="1.8"/>
<line x1="1749.17" x2="1749.17" y1="1118.37" y2="1129.78" stroke="#00ffff" stroke-width="1.8"/>
<line x1="1749.17" x2="1749.17" y1="923" y2="1118.37" stroke="#9a4c28" stroke-width="1.8"/>
<polyline points="1468.63,957.9 1562.14,954.91 1655.66,960.24 1749.17,989.9" fill="none" stroke="#f29400" stroke-width="3.35" stroke-dasharray="3.35 5.53"/>
<circle cx="1468.63" cy="957.9" r="7.82" fill="#ffa500"/>
<circle cx="1562.14" cy="954.91" r="7.82" fill="#ffa500"/>
<circle cx="1655.66" cy="960.24" r="7.82" fill="#ffa500"/>
<circle cx="1749.17" cy="989.9" r="7.82" fill="#ffa500"/>
<polyline points="1468.63,954.06 1562.14,956.12 1655.66,959.02 1749.17,1001.97" fill="none" stroke="#006c68" stroke-width="3.35" stroke-dasharray="3.35 5.53"/>
<path d="M1468.63 960.76L1461.93 947.37L1475.33 947.37Z" fill="#008080" stroke="#008080" stroke-width="2.23" stroke-linejoin="miter"/>
<path d="M1562.14 962.82L1555.44 949.42L1568.84 949.42Z" fill="#008080" stroke="#008080" stroke-width="2.23" stroke-linejoin="miter"/>
<path d="M1655.66 965.72L1648.96 952.32L1662.36 952.32Z" fill="#008080" stroke="#008080" stroke-width="2.23" stroke-linejoin="miter"/>
<path d="M1749.17 1008.67L1742.47 995.27L1755.87 995.27Z" fill="#008080" stroke="#008080" stroke-width="2.23" stroke-linejoin="miter"/>
<polyline points="1468.63,960.24 1562.14,1015.63 1655.66,1012.73 1749.17,1040.05" fill="none" stroke="#00f2f2" stroke-width="3.35" stroke-dasharray="3.35 5.53"/>
<path d="M1461.93 953.54L1475.33 966.94M1461.93 966.94L1475.33 953.54" fill="none" stroke="#00ffff" stroke-width="2.23"/>
<path d="M1555.44 1008.93L1568.84 1022.33M1555.44 1022.33L1568.84 1008.93" fill="none" stroke="#00ffff" stroke-width="2.23"/>
<path d="M1648.96 1006.03L1662.36 1019.43M1648.96 1019.43L1662.36 1006.03" fill="none" stroke="#00ffff" stroke-width="2.23"/>
<path d="M1742.47 1033.35L1755.87 1046.75M1742.47 1046.75L1755.87 1033.35" fill="none" stroke="#00ffff" stroke-width="2.23"/>
<polyline points="1468.63,954.53 1562.14,956.31 1655.66,968.66 1749.17,1020.68" fill="none" stroke="#8c3e1c" stroke-width="3.35" stroke-dasharray="3.35 5.53"/>
<path d="M1468.63 945.06L1474.31 954.53L1468.63 964.01L1462.94 954.53Z" fill="#a0522d" stroke="#96461f" stroke-width="2.23" stroke-linejoin="miter"/>
<path d="M1562.14 946.84L1567.83 956.31L1562.14 965.78L1556.46 956.31Z" fill="#a0522d" stroke="#96461f" stroke-width="2.23" stroke-linejoin="miter"/>
<path d="M1655.66 959.19L1661.34 968.66L1655.66 978.13L1649.97 968.66Z" fill="#a0522d" stroke="#96461f" stroke-width="2.23" stroke-linejoin="miter"/>
<path d="M1749.17 1011.21L1754.86 1020.68L1749.17 1030.16L1743.49 1020.68Z" fill="#a0522d" stroke="#96461f" stroke-width="2.23" stroke-linejoin="miter"/>
</g>
<path d="M1562.14 1203.7v8.1M1749.17 1203.7v8.1M1454.6 1203.7h-8.1M1454.6 1110.13h-8.1M1454.6 1016.57h-8.1M1454.6 923h-8.1" stroke="#000" stroke-width="2.05" fill="none"/>
<rect x="1454.6" y="923" width="308.6" height="280.7" fill="none" stroke="#000" stroke-width="2.05" stroke-linejoin="miter"/>
<text x="1562.49" y="1240.85" text-anchor="middle">2</text>
<text x="1749.27" y="1240.85" text-anchor="middle">4</text>
<text x="1608.77" y="1274.8" text-anchor="middle">landmark time (years)</text>
<text x="1609.08" y="910.15" text-anchor="middle">(O): RNN_long - FNN</text>
</svg>
</body></html>
